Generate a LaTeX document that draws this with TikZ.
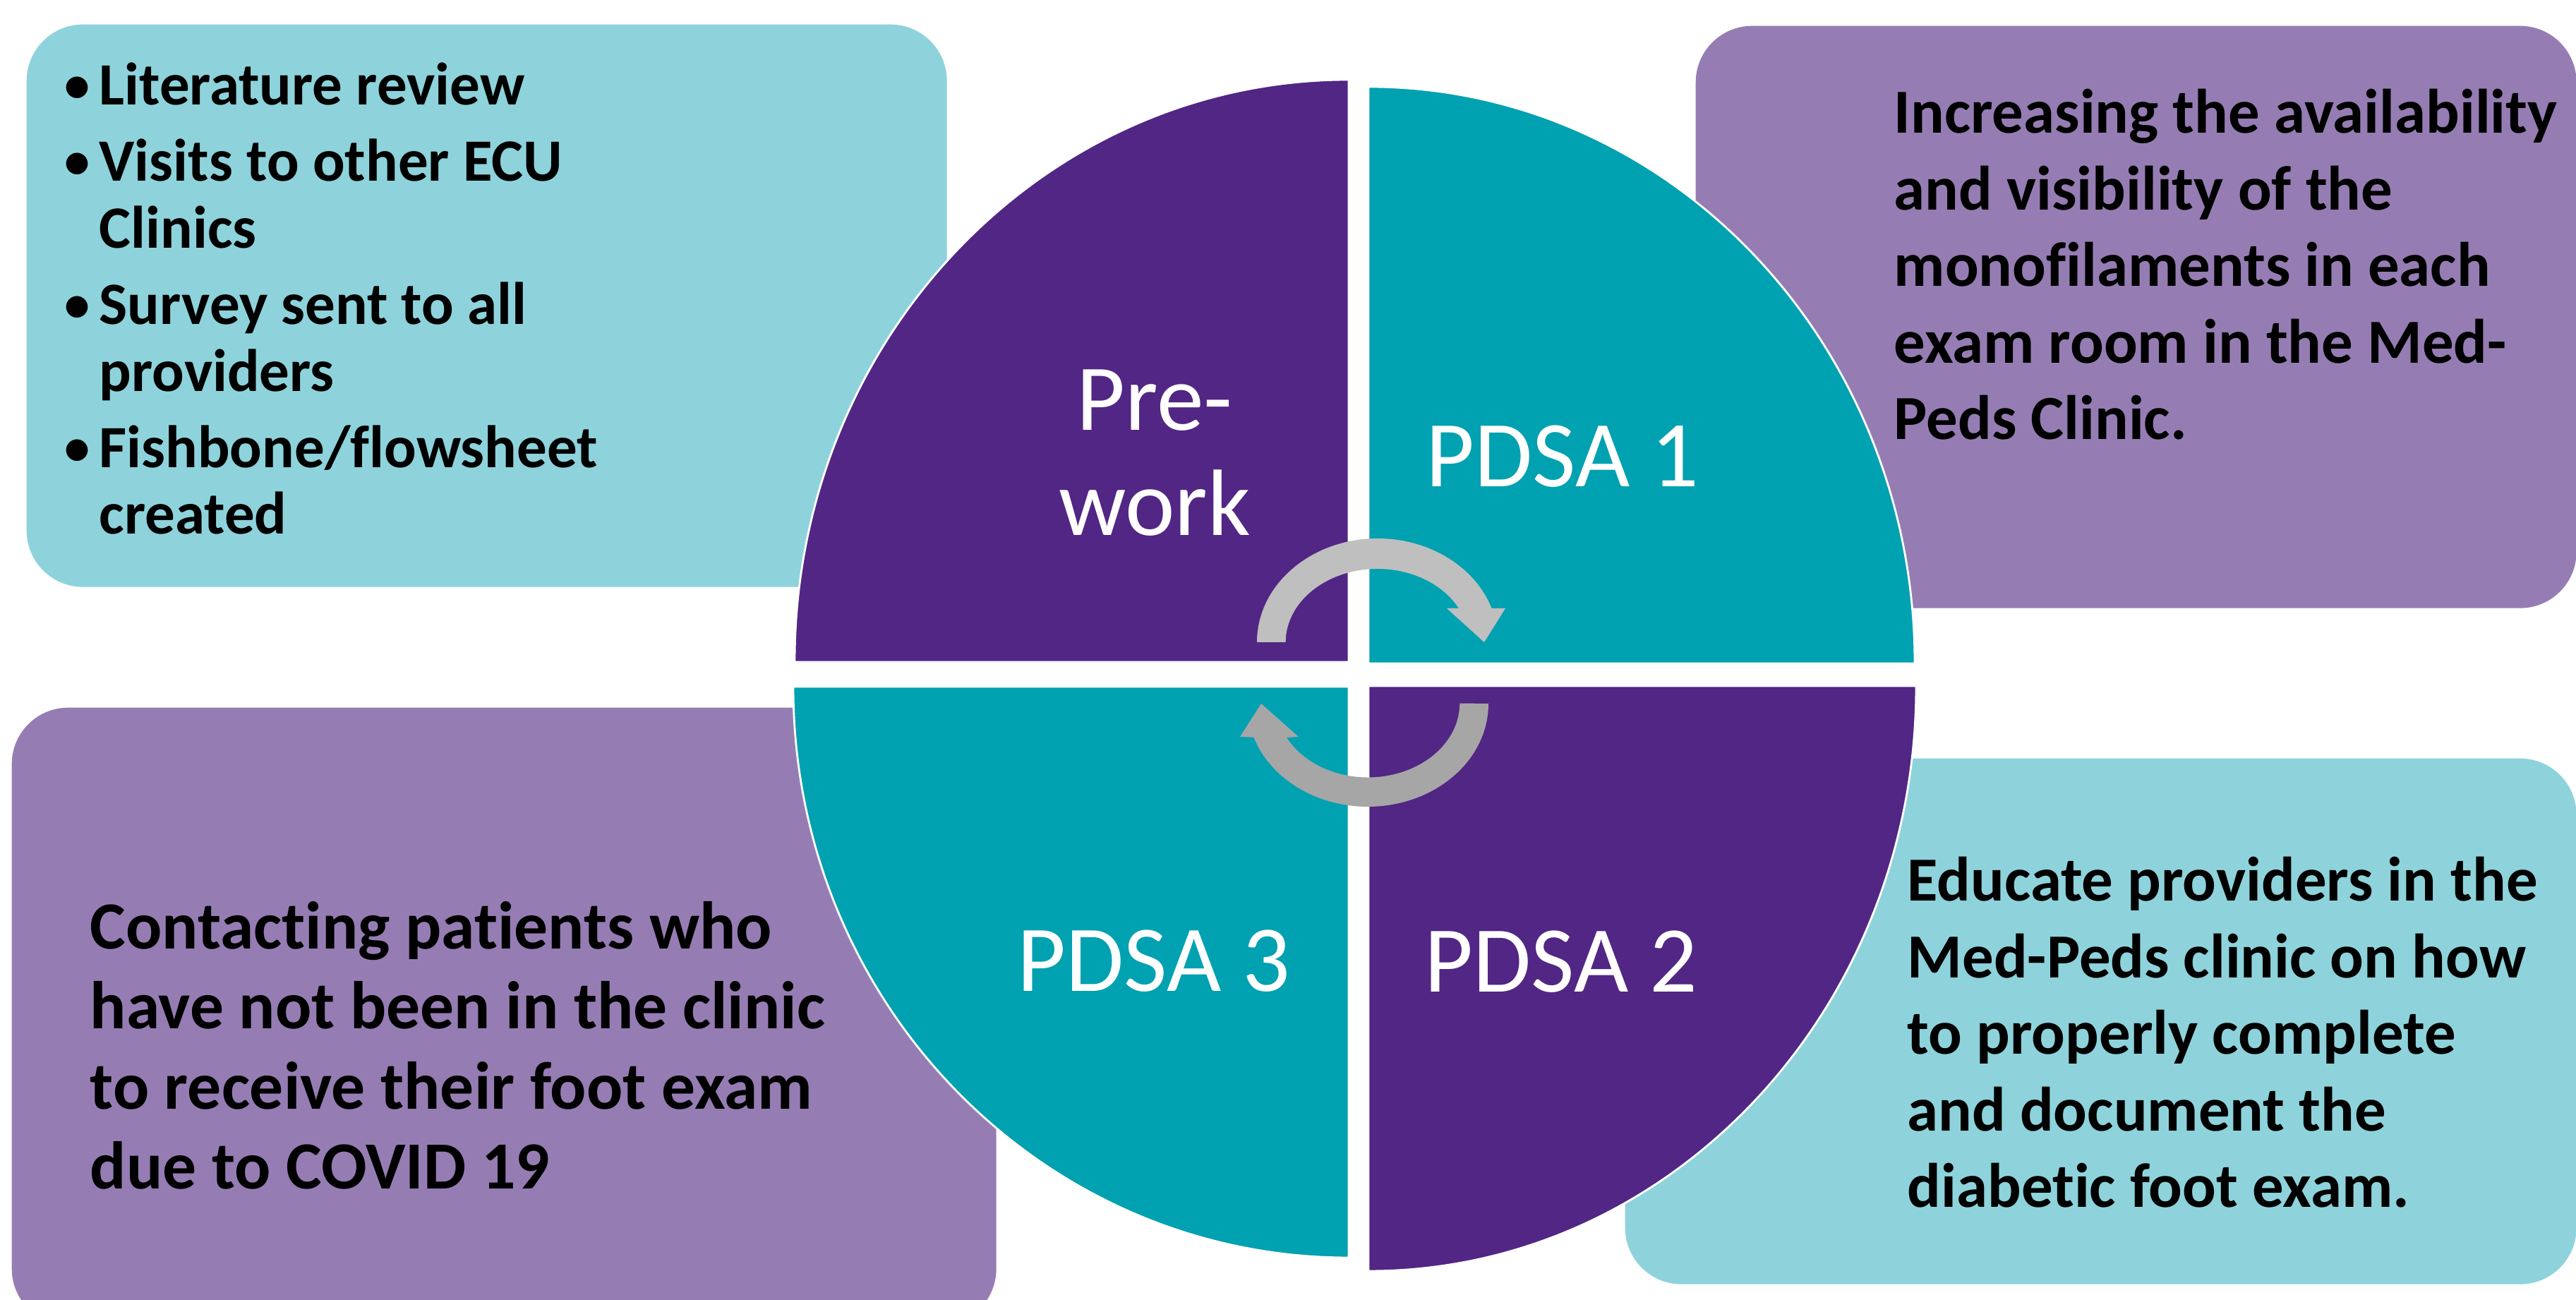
\documentclass[tikz,border=0pt]{standalone}
\usepackage{fontspec}
\setmainfont[Ligatures=NoCommon]{Carlito}

\definecolor{pdark}{HTML}{512684}
\definecolor{pteal}{HTML}{00A1B0}
\definecolor{plight}{HTML}{957DB4}
\definecolor{tlight}{HTML}{8ED3DB}
\definecolor{arrowtop}{HTML}{BFBFBF}
\definecolor{arrowbot}{HTML}{A6A6A6}

\newcommand{\listbul}{\makebox[0.54cm][l]{\hspace*{0.05cm}\raisebox{0.04cm}{\scalebox{0.85}{\textbullet}}}}
\newcommand{\listind}{\hspace*{0.54cm}}

\tikzset{
    infobox/.style={rectangle, rounded corners=0.8cm, inner sep=0pt, anchor=north west},
    quarter/.style={draw=white, line width=0.8pt},
    phase/.style={text=white, align=center, inner sep=0pt, anchor=base,
        font=\fontsize{38}{42.4}\selectfont},
    % base anchor sits on the last line
    note/.style={anchor=base west, align=left, inner sep=0pt,
        font=\bfseries\fontsize{25.3}{30.9}\selectfont}
}

\begin{document}
\begin{tikzpicture}
    \useasboundingbox (0,0) rectangle (36.5,18.42);

    % boxes behind the cycle
    \node[infobox, fill=tlight, minimum width=13.04cm, minimum height=7.97cm] (prebox) at (0.37,18.08) {};
    \node[infobox, fill=plight, minimum width=12.48cm, minimum height=8.25cm] (onebox) at (24.02,18.06) {};
    \node[infobox, fill=plight, minimum width=13.95cm, minimum height=8.75cm] (threebox) at (0.16,8.40) {};
    \node[infobox, fill=tlight, minimum width=13.48cm, minimum height=7.45cm] (twobox) at (23.02,7.68) {};

    % quarter ellipses
    \coordinate (qpre) at (19.11,9.04);
    \coordinate (qone) at (19.39,9.02);
    \coordinate (qthree) at (19.11,8.69);
    \coordinate (qtwo) at (19.39,8.70);

    \foreach \c/\a/\rx/\ry/\col in {qpre/90/7.85/8.25/pdark, qone/0/7.74/8.17/pteal, qthree/180/7.87/8.09/pteal, qtwo/270/7.76/8.29/pdark}
    {
        \filldraw[quarter, fill=\col] (\c) -- ++(\a:\rx cm and \ry cm)
            arc[start angle=\a, delta angle=90, x radius=\rx, y radius=\ry] -- cycle;
    }

    % the two curved arrows in the middle
    \fill[arrowtop] (17.81,9.32) arc[start angle=180, end angle=19.06, x radius=1.71, y radius=1.47]
        -- (21.33,9.80) -- (21.03,9.32) -- (20.50,9.80) -- (20.67,9.80)
        arc[start angle=27.5, end angle=180, x radius=1.30, y radius=1.04] -- cycle;
    \fill[arrowbot] (21.09,8.45) arc[start angle=0, end angle=-160.9, x radius=1.71, y radius=1.46]
        -- (17.57,7.98) -- (17.87,8.45) -- (18.40,7.98) -- (18.23,7.97)
        arc[start angle=-152.5, end angle=0, x radius=1.30, y radius=1.05] -- cycle;

    % phase labels
    \node[phase] (pre) at (16.36,10.83) {Pre-\\work};
    \node[phase] (one) at (22.14,11.52) {PDSA 1};
    \node[phase] (three) at (16.35,4.37) {PDSA 3};
    \node[phase] (two) at (22.12,4.36) {PDSA 2};

    % box texts
    \node[note, font=\bfseries\fontsize{24.2}{27}\selectfont] (pretext) at (0.86,10.85) {%
        \listbul Literature review\\[3.7pt]
        \listbul Visits to other ECU\\
        \listind Clinics\\[3.7pt]
        \listbul Survey sent to all\\
        \listind providers\\[3.7pt]
        \listbul Fishbone/flowsheet\\
        \listind created};
    \node[note] (onetext) at (26.83,12.19) {Increasing the availability\\and visibility of the\\monofilaments in each\\exam room in the Med-\\Peds Clinic.};
    \node[note, font=\bfseries\fontsize{27.2}{32.3}\selectfont] (threetext) at (1.27,1.57) {Contacting patients who\\have not been in the clinic\\to receive their foot exam\\due to COVID 19};
    \node[note] (twotext) at (27.02,1.31) {Educate providers in the\\Med-Peds clinic on how\\to properly complete\\and document the\\diabetic foot exam.};
\end{tikzpicture}
\end{document}
